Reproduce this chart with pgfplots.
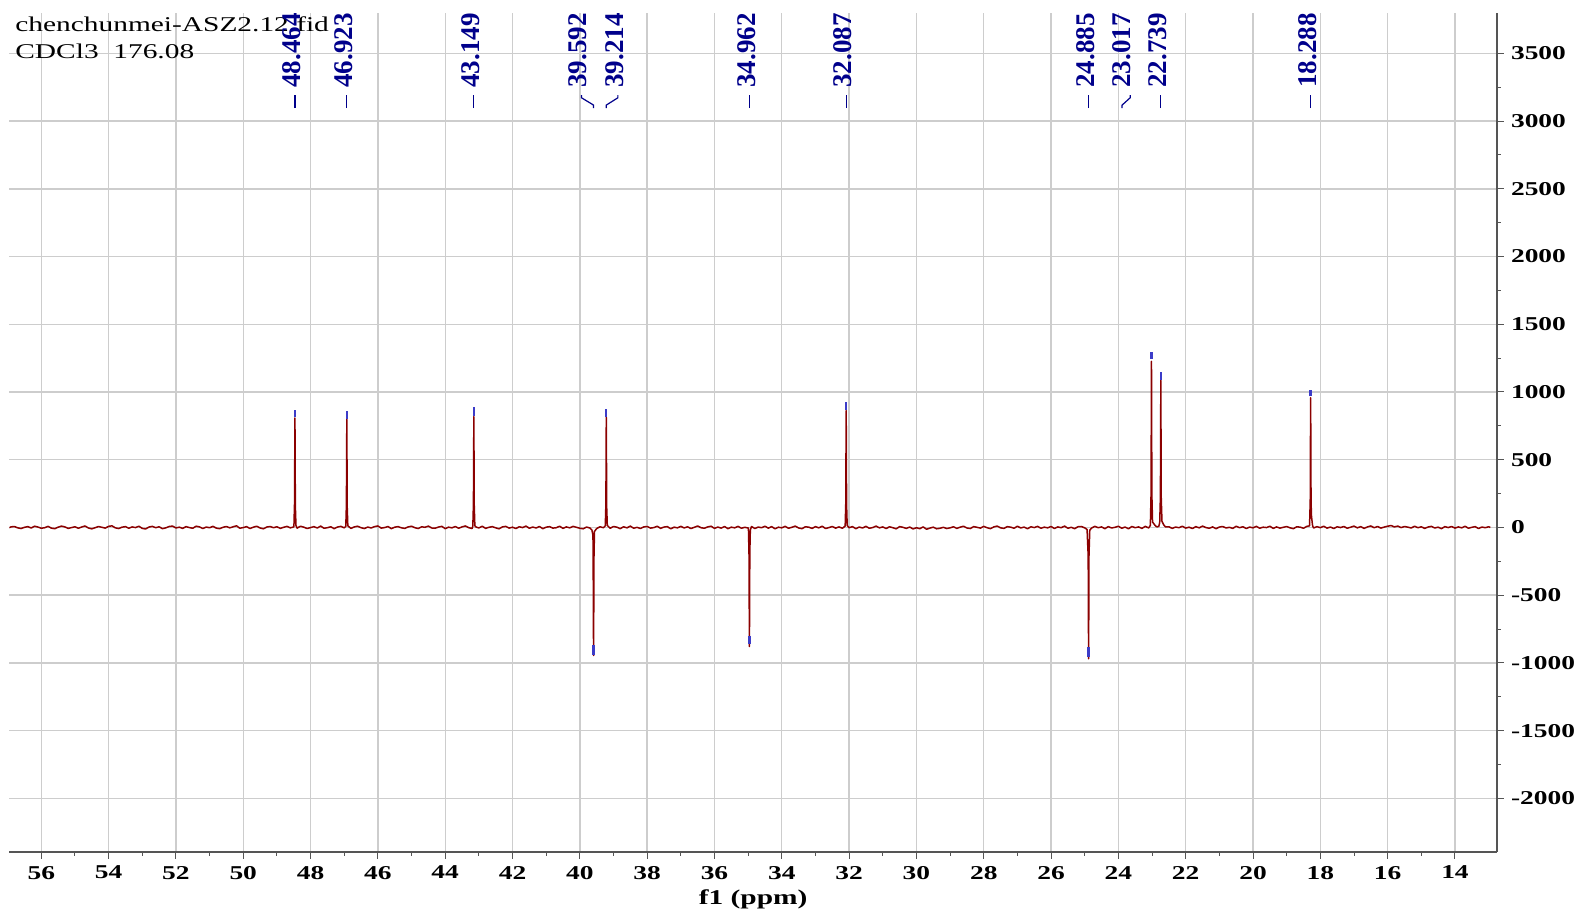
\documentclass[border=0pt]{standalone}
\usepackage{pgfplots}
\pgfplotsset{compat=1.18}
\usepackage{fontspec}
\setmainfont{Liberation Serif}
\newfontfamily\widefont[FakeStretch=1.4]{Liberation Serif}

\definecolor{specred}{RGB}{139,0,0}
\definecolor{pickblue}{RGB}{60,60,200}
\definecolor{labelnavy}{RGB}{0,0,139}
\definecolor{gridgray}{RGB}{205,205,205}
\definecolor{axisgray}{RGB}{85,85,85}

\tikzset{
  plab/.style={rotate=90, anchor=west, inner sep=0pt, text=labelnavy,
    font=\fontsize{13.5}{14}\selectfont\bfseries},
  ptick/.style={labelnavy, line width=0.6pt},
}

\begin{document}
\begin{tikzpicture}
\path[use as bounding box] (0,0) rectangle (793.5pt,457pt);
\begin{axis}[
  at={(4.65pt,31pt)}, anchor=south west,
  scale only axis, width=743.85pt, height=419.5pt,
  x dir=reverse,
  xmin=12.752, xmax=56.951,
  ymin=-2396, ymax=3798,
  axis x line=bottom, axis y line=right,
  every outer x axis line/.append style={-},
  every outer y axis line/.append style={-},
  axis line style={-, axisgray, line width=0.6pt},
  xtick={14,16,...,56}, minor x tick num=1,
  ytick={-2000,-1500,...,3500}, minor y tick num=1,
  tick align=outside,
  major tick length=3.5pt, minor tick length=2pt,
  tick style={axisgray, line width=0.5pt},
  grid=major, major grid style={gridgray, line width=0.7pt},
  /pgf/number format/assume math mode=true,
  /pgf/number format/1000 sep={},
  scaled y ticks=false,
  tick label style={font=\fontsize{9.8}{10}\widefont\bfseries},
  xlabel={f1 (ppm)},
  xlabel style={at={(axis description cs:0.5,0)}, anchor=center, yshift=-23.5pt,
    font=\fontsize{10.5}{11}\widefont\bfseries},
]
% 13C DEPT spectrum
\addplot[specred, line width=0.75pt, line join=round] coordinates {
(56.95,-2)(56.9,4)(56.8,7)(56.7,-3)(56.6,-8)(56.5,1)(56.4,6)(56.3,-4)(56.2,9)(56.1,3)(56.0,-6)
(55.9,-2)(55.8,8)(55.7,-5)(55.6,-9)(55.5,2)(55.4,10)(55.3,4)(55.2,-7)(55.1,-1)(55.0,5)
(54.9,-6)(54.8,3)(54.7,11)(54.6,-4)(54.5,-10)(54.4,-2)(54.3,7)(54.2,1)(54.1,-5)(54.0,8)
(53.9,12)(53.8,-3)(53.7,-8)(53.6,2)(53.5,6)(53.4,-6)(53.3,4)(53.2,-1)(53.1,9)(53.0,-7)
(52.9,-11)(52.8,3)(52.7,8)(52.6,-2)(52.5,5)(52.4,-9)(52.3,-3)(52.2,7)(52.1,10)(52.0,-4)
(51.9,2)(51.8,-7)(51.7,6)(51.6,-1)(51.5,-6)(51.4,9)(51.3,4)(51.2,-8)(51.1,3)(51.0,-2)
(50.9,8)(50.8,-5)(50.7,-9)(50.6,1)(50.5,7)(50.4,-3)(50.3,5)(50.2,12)(50.1,-6)(50.0,-1)
(49.9,6)(49.8,-8)(49.7,2)(49.6,9)(49.5,-4)(49.4,-10)(49.3,3)(49.2,7)(49.1,-2)(49.0,5)
(48.9,-7)(48.8,1)(48.7,8)(48.6,-3)(48.5,4)(48.494,10)(48.476,180)(48.464,808)(48.452,160)(48.434,15)(48.4,-5)(48.3,9)(48.2,2)(48.1,-8)(48.0,-1)
(47.9,6)(47.8,-4)(47.7,10)(47.6,-6)(47.5,-2)(47.4,5)(47.3,-9)(47.2,3)(47.1,8)(47.0,-3)
(46.953,8)(46.935,170)(46.923,798)(46.911,150)(46.893,12)(46.8,-7)(46.7,4)(46.6,9)(46.5,-2)(46.4,-8)(46.3,3)(46.2,-4)(46.1,6)(46.0,11)
(45.9,-5)(45.8,-1)(45.7,7)(45.6,-9)(45.5,2)(45.4,6)(45.3,-3)(45.2,-7)(45.1,4)(45.0,9)
(44.9,-2)(44.8,-8)(44.7,5)(44.6,1)(44.5,10)(44.4,-4)(44.3,-6)(44.2,3)(44.1,8)(44.0,-9)
(43.9,2)(43.8,-3)(43.7,7)(43.6,-6)(43.5,4)(43.4,11)(43.3,-2)(43.2,-8)(43.179,10)(43.161,175)(43.149,818)(43.137,160)(43.119,14)(43.1,5)(43.0,-4)
(42.9,9)(42.8,-7)(42.7,1)(42.6,6)(42.5,-3)(42.4,-10)(42.3,4)(42.2,8)(42.1,-5)(42.0,2)
(41.9,-8)(41.8,5)(41.7,-1)(41.6,10)(41.5,-6)(41.4,3)(41.3,-4)(41.2,7)(41.1,-9)(41.0,2)
(40.9,6)(40.8,-5)(40.7,-2)(40.6,9)(40.5,-7)(40.4,4)(40.3,-3)(40.2,8)(40.1,1)(40.0,-6)
(39.9,-10)(39.8,3)(39.7,-4)(39.64,-20)(39.61,-60)(39.604,-250)(39.592,-945)(39.58,-220)(39.565,-30)(39.5,-8)(39.4,5)(39.3,-2)(39.244,12)(39.226,170)(39.214,812)(39.202,150)(39.184,15)(39.1,-6)(39.0,7)
(38.9,2)(38.8,-9)(38.7,5)(38.6,-3)(38.5,10)(38.4,-6)(38.3,1)(38.2,-8)(38.1,4)(38.0,7)
(37.9,-5)(37.8,-1)(37.7,9)(37.6,-7)(37.5,3)(37.4,6)(37.3,-10)(37.2,2)(37.1,-3)(37.0,8)
(36.9,-4)(36.8,5)(36.7,-8)(36.6,1)(36.5,11)(36.4,-2)(36.3,-6)(36.2,4)(36.1,9)(36.0,-7)
(35.9,3)(35.8,-5)(35.7,7)(35.6,-9)(35.5,2)(35.4,-3)(35.3,8)(35.2,-6)(35.1,1)(35.0,-4)
(34.99,-15)(34.974,-200)(34.962,-879)(34.95,-190)(34.935,-20)(34.9,7)(34.8,-8)(34.7,3)(34.6,-2)(34.5,9)(34.4,-5)(34.3,6)(34.2,-10)(34.1,2)(34.0,-3)
(33.9,8)(33.8,-6)(33.7,1)(33.6,10)(33.5,-4)(33.4,-9)(33.3,5)(33.2,2)(33.1,-7)(33.0,6)
(32.9,-3)(32.8,9)(32.7,-8)(32.6,-1)(32.5,7)(32.4,-5)(32.3,4)(32.2,-6)(32.117,10)(32.099,180)(32.087,862)(32.075,170)(32.057,14)(32.0,-2)
(31.9,6)(31.8,-9)(31.7,3)(31.6,-4)(31.5,8)(31.4,-6)(31.3,-1)(31.2,10)(31.1,-3)(31.0,4)
(30.9,-8)(30.8,5)(30.7,-2)(30.6,-10)(30.5,6)(30.4,1)(30.3,-7)(30.2,3)(30.1,-11)(30.0,-2)
(29.9,-9)(29.8,4)(29.7,-13)(29.6,-5)(29.5,2)(29.4,-10)(29.3,-6)(29.2,1)(29.1,-8)(29.0,-3)
(28.9,5)(28.8,-7)(28.7,2)(28.6,9)(28.5,-4)(28.4,-8)(28.3,6)(28.2,1)(28.1,-5)(28.0,8)
(27.9,-2)(27.8,-9)(27.7,4)(27.6,10)(27.5,-3)(27.4,-7)(27.3,6)(27.2,2)(27.1,-6)(27.0,9)
(26.9,-4)(26.8,3)(26.7,-10)(26.6,5)(26.5,-1)(26.4,8)(26.3,-6)(26.2,2)(26.1,-3)(26.0,7)
(25.9,-8)(25.8,4)(25.7,-2)(25.6,10)(25.5,-6)(25.4,1)(25.3,-9)(25.2,5)(25.1,7)(25.0,-3)
(24.93,-15)(24.897,-210)(24.885,-970)(24.873,-200)(24.85,-20)(24.8,-5)(24.7,8)(24.6,-2)(24.5,4)(24.4,-9)(24.3,6)(24.2,-4)(24.1,1)(24.0,9)
(23.9,-6)(23.8,3)(23.7,-10)(23.6,7)(23.5,-2)(23.4,4)(23.3,-7)(23.2,8)(23.1,-4)(23.05,15)(23.029,250)(23.017,1226)(23.005,240)(22.985,40)(22.9,12)(22.85,4)(22.8,8)(22.772,35)(22.751,230)(22.739,1086)(22.727,220)(22.705,45)(22.65,18)(22.6,4)(22.5,5)(22.4,-7)(22.3,3)(22.2,-2)(22.1,9)(22.0,-5)
(21.9,2)(21.8,-8)(21.7,6)(21.6,-3)(21.5,10)(21.4,-1)(21.3,-6)(21.2,4)(21.1,-9)(21.0,3)
(20.9,7)(20.8,-4)(20.7,1)(20.6,-7)(20.5,9)(20.4,-2)(20.3,5)(20.2,-8)(20.1,3)(20.0,-3)
(19.9,8)(19.8,-6)(19.7,2)(19.6,-1)(19.5,9)(19.4,-7)(19.3,4)(19.2,-5)(19.1,1)(19.0,7)
(18.9,-3)(18.8,-9)(18.7,5)(18.6,2)(18.5,-6)(18.4,8)(18.32,12)(18.30,200)(18.288,958)(18.276,190)(18.262,80)(18.23,12)(18.2,-4)(18.1,6)(18.0,-2)
(17.9,9)(17.8,-5)(17.7,3)(17.6,-8)(17.5,5)(17.4,-1)(17.3,7)(17.2,-6)(17.1,2)(17.0,10)
(16.9,-3)(16.8,6)(16.7,-7)(16.6,4)(16.5,11)(16.4,-2)(16.3,7)(16.2,-5)(16.1,3)(16.0,9)
(15.9,14)(15.8,4)(15.7,10)(15.6,-1)(15.5,7)(15.4,2)(15.3,-4)(15.2,9)(15.1,-2)(15.0,5)
(14.9,-7)(14.8,3)(14.7,8)(14.6,-4)(14.5,2)(14.4,-9)(14.3,6)(14.2,-1)(14.1,7)(14.0,-5)
(13.9,4)(13.8,-3)(13.7,9)(13.6,-6)(13.5,1)(13.4,6)(13.3,-8)(13.2,3)(13.1,-2)(13.0,5)(12.95,0)
};
% peak-pick markers at the peak tips
\addplot[pickblue, line width=1.2pt, unbounded coords=jump] coordinates {
(48.464,812)(48.464,869)(48.464,nan)
(46.923,802)(46.923,860)(46.923,nan)
(43.149,825)(43.149,887)(43.149,nan)
(39.214,818)(39.214,877)(39.214,nan)
(32.087,869)(32.087,923)(32.087,nan)
(23.017,1246)(23.017,1292)(23.017,nan)
(22.739,1091)(22.739,1145)(22.739,nan)
(18.288,968)(18.288,1017)(18.288,nan)
(39.592,-868)(39.592,-945)(39.592,nan)
(34.962,-800)(34.962,-859)(34.962,nan)
(24.885,-886)(24.885,-955)
};
% file header
\node[anchor=base west, inner sep=0pt, font=\fontsize{10.5}{12}\widefont]
  at ([xshift=2.85pt, yshift=-9.5pt]axis description cs:0,1) {chenchunmei-ASZ2.12.fid};
\node[anchor=base west, inner sep=0pt, font=\fontsize{10.5}{12}\widefont]
  at ([xshift=2.85pt, yshift=-23pt]axis description cs:0,1) {CDCl3\ \ 176.08};
% peak labels
\node[plab] at (axis cs:48.554,3244) {48.464};
\node[plab] at (axis cs:47.013,3244) {46.923};
\node[plab] at (axis cs:43.239,3244) {43.149};
\node[plab] at (axis cs:40.056,3244) {39.592};
\node[plab] at (axis cs:38.956,3244) {39.214};
\node[plab] at (axis cs:35.052,3244) {34.962};
\node[plab] at (axis cs:32.177,3244) {32.087};
\node[plab] at (axis cs:24.975,3244) {24.885};
\node[plab] at (axis cs:23.903,3244) {23.017};
\node[plab] at (axis cs:22.829,3244) {22.739};
\node[plab] at (axis cs:18.378,3244) {18.288};
\draw[ptick] (axis cs:48.464,3096) -- (axis cs:48.464,3192);
\draw[ptick] (axis cs:46.923,3096) -- (axis cs:46.923,3192);
\draw[ptick] (axis cs:43.149,3096) -- (axis cs:43.149,3192);
\draw[ptick] (axis cs:39.95,3192) -- (axis cs:39.95,3172) -- (axis cs:39.592,3118) -- (axis cs:39.592,3096);
\draw[ptick] (axis cs:38.87,3192) -- (axis cs:38.87,3172) -- (axis cs:39.214,3118) -- (axis cs:39.214,3096);
\draw[ptick] (axis cs:34.962,3096) -- (axis cs:34.962,3192);
\draw[ptick] (axis cs:32.087,3096) -- (axis cs:32.087,3192);
\draw[ptick] (axis cs:24.885,3096) -- (axis cs:24.885,3192);
\draw[ptick] (axis cs:23.65,3192) -- (axis cs:23.65,3172) -- (axis cs:23.89,3118) -- (axis cs:23.89,3096);
\draw[ptick] (axis cs:22.739,3096) -- (axis cs:22.739,3192);
\draw[ptick] (axis cs:18.288,3096) -- (axis cs:18.288,3192);
\end{axis}
\end{tikzpicture}
\end{document}
